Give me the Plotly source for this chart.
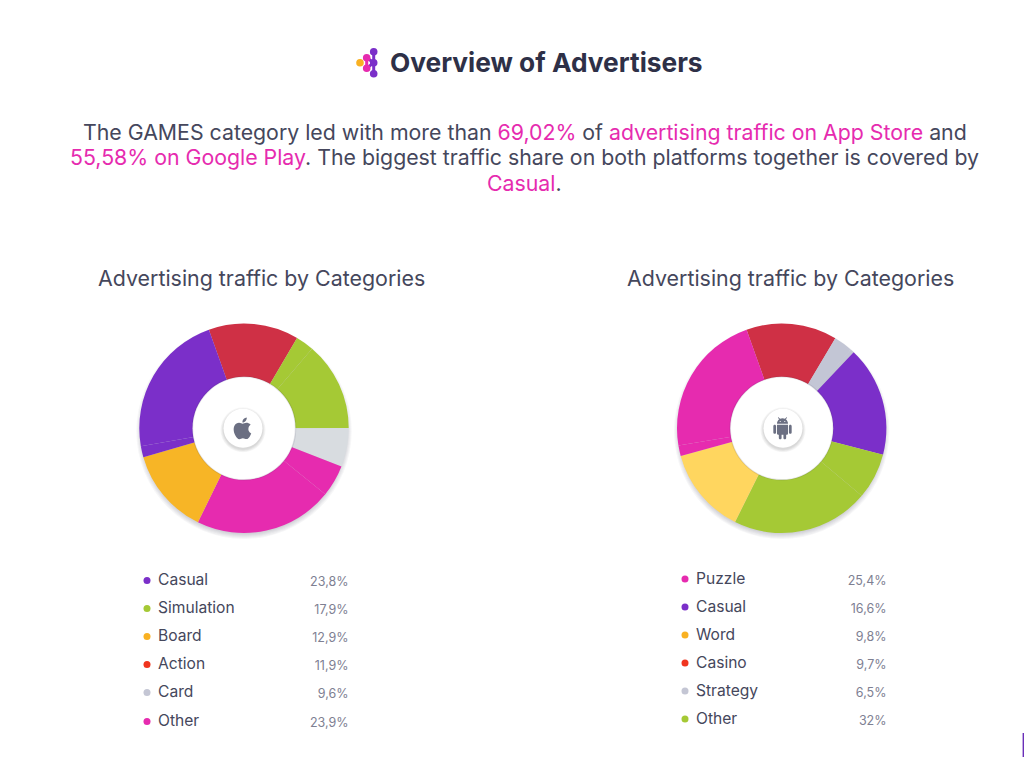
import re
import plotly.graph_objects as go

# slice shares (percent of the circle)
ios_values = [13.9, 2.8, 13.7, 6.0, 4.9, 21.4, 13.3, 1.7, 22.3]
ios_colors = ['#CF3045', '#A5C935', '#A5C935', '#D8DCE0', '#E62BAF', '#E62BAF', '#F7B526', '#7B2FC9', '#7B2FC9']
android_values = [14.0, 2.9, 0.6, 17.0, 7.1, 21.2, 13.4, 1.6, 22.2]
android_colors = ['#CF3045', '#C3C6D5', '#C3C6D5', '#7B2FC9', '#A5C935', '#A5C935', '#FFD65F', '#E62BAF', '#E62BAF']

# legend tables
ios_names = ['Casual', 'Simulation', 'Board', 'Action', 'Card', 'Other']
ios_shares = ['23,8%', '17,9%', '12,9%', '11,9%', '9,6%', '23,9%']
ios_dots = ['#7B2FC9', '#A5C935', '#F9B122', '#F0351F', '#C4C6D4', '#E62BAF']
android_names = ['Puzzle', 'Casual', 'Word', 'Casino', 'Strategy', 'Other']
android_shares = ['25,4%', '16,6%', '9,8%', '9,7%', '6,5%', '32%']
android_dots = ['#E62BAF', '#7B2FC9', '#F9B122', '#F0351F', '#C4C6D4', '#A5C935']

FONT = 'Inter'
DARK = '#2E3047'
TEXT = '#45475C'
PINK = '#E62BAF'
GREY = '#7E8092'
W, H = 1024, 760
R_OUT, R_IN = 104.7, 51

APPLE = ('M18.71 19.5c-.83 1.24-1.71 2.45-3.05 2.47-1.34.03-1.77-.79-3.29-.79-1.53 0-2 .77-3.27.82'
         '-1.31.05-2.3-1.32-3.14-2.53C4.25 17 2.94 12.45 4.7 9.39c.87-1.52 2.43-2.48 4.12-2.51'
         ' 1.28-.02 2.5.87 3.29.87.78 0 2.26-1.07 3.81-.91.65.03 2.47.26 3.64 1.98-.09.06-2.17 1.28-2.15 3.81'
         '.03 3.02 2.65 4.03 2.68 4.04-.03.07-.42 1.44-1.38 2.83M13 3.5c.73-.83 1.94-1.46 2.94-1.5'
         '.13 1.17-.34 2.35-1.04 3.19-.69.85-1.83 1.51-2.95 1.42-.15-1.15.41-2.35 1.05-3.11z')
ANDROID = ('M6 18c0 .55.45 1 1 1h1v3.5c0 .83.67 1.5 1.5 1.5s1.5-.67 1.5-1.5V19h2v3.5c0 .83.67 1.5 1.5 1.5'
           's1.5-.67 1.5-1.5V19h1c.55 0 1-.45 1-1V8H6v10zM3.5 8C2.67 8 2 8.67 2 9.5v7c0 .83.67 1.5 1.5 1.5'
           'S5 17.33 5 16.5v-7C5 8.67 4.33 8 3.5 8zM20.5 8c-.83 0-1.5.67-1.5 1.5v7c0 .83.67 1.5 1.5 1.5'
           's1.5-.67 1.5-1.5v-7c0-.83-.67-1.5-1.5-1.5zM15.53 2.16l1.3-1.3c.2-.2.2-.51 0-.71-.2-.2-.51-.2-.71 0'
           'l-1.48 1.48C13.85 1.23 12.95 1 12 1c-.96 0-1.86.23-2.66.63L7.85.15c-.2-.2-.51-.2-.71 0-.2.2-.2.51 0 .71'
           'l1.31 1.31C6.97 3.26 6 5.01 6 7h12c0-1.99-.97-3.75-2.47-4.84z'
           'M10 5H9V4h1v1zM15 5h-1V4h1v1z')


def place_icon(path, cx, cy, size):
    # plotly shapes take absolute commands only, so resolve the relative ones and scale
    k = size / 24
    out = []
    px, py = 0, 0
    for cmd, args in re.findall(r'([MmLlHhVvCcSsZz])([^MmLlHhVvCcSsZz]*)', path):
        nums = [float(n) for n in re.findall(r'-?\d*\.?\d+', args)]
        low = cmd.lower()
        if low == 'z':
            out.append('Z')
            continue
        rel = cmd == low
        if low == 'h':
            px = px + nums[0] if rel else nums[0]
            out.append(f'L{cx + (px - 12) * k:.2f} {cy + (py - 12) * k:.2f}')
            continue
        if low == 'v':
            py = py + nums[0] if rel else nums[0]
            out.append(f'L{cx + (px - 12) * k:.2f} {cy + (py - 12) * k:.2f}')
            continue
        step = {'m': 2, 'l': 2, 'c': 6, 's': 4}[low]
        for i in range(0, len(nums), step):
            chunk = nums[i:i + step]
            pts = []
            for a in range(0, step, 2):
                x = chunk[a] + px if rel else chunk[a]
                y = chunk[a + 1] + py if rel else chunk[a + 1]
                pts.append((x, y))
            px, py = pts[-1]
            letter = cmd.upper() if not (low == 'm' and i > 0) else 'L'
            out.append(letter + ' '.join(f'{cx + (x - 12) * k:.2f} {cy + (y - 12) * k:.2f}' for x, y in pts))
    return ''.join(out)


def circle(cx, cy, r, fill, layer='above', line=None, width=0):
    return dict(type='circle', xref='x', yref='y', x0=cx - r, x1=cx + r, y0=cy - r, y1=cy + r,
                fillcolor=fill, line=dict(color=line or 'rgba(0,0,0,0)', width=width), layer=layer)


def donut_dressing(cx, cy, button_x, icon_x, icon, icon_size):
    shapes = []
    # soft drop shadow under the ring
    for i in range(6):
        shapes.append(circle(cx, cy + 3, R_OUT + 3 - i, 'rgba(40,40,60,0.035)', layer='below'))
    # white hole with a faint edge, the ring shadow must not show through it
    shapes.append(circle(cx, cy, R_IN + 0.5, '#FFFFFF', line='rgba(60,60,80,0.12)', width=1.5))
    # round white button with the platform icon, not quite centred in the hole
    for i in range(5):
        shapes.append(circle(button_x, cy + 1.5, 22.5 - i * 0.7, 'rgba(40,40,60,0.04)'))
    shapes.append(circle(button_x, cy, 19.5, '#FFFFFF'))
    shapes.append(dict(type='path', xref='x', yref='y', path=place_icon(icon, icon_x, cy, icon_size),
                       fillcolor='#6B6F82', line=dict(width=0), layer='above', fillrule='evenodd'))
    return shapes


fig = go.Figure()

# hidden pixel axes carry the legends, shapes and text
for names, shares, dots, dot_x, val_x, top, rows in [
    (ios_names, ios_shares, ios_dots, 147, 348.5, 580.5, [0, 28, 56, 84, 112, 141]),
    (android_names, android_shares, android_dots, 685, 886.5, 579, [0, 28, 56, 84, 112, 140]),
]:
    ys = [top + r for r in rows]
    fig.add_trace(go.Scatter(x=[dot_x] * len(ys), y=ys, mode='markers', marker=dict(size=7, color=dots),
                             hoverinfo='skip', cliponaxis=False))
    fig.add_trace(go.Scatter(x=[dot_x + 11] * len(ys), y=[y + 1 for y in ys], mode='text', text=names,
                             textposition='middle right',
                             textfont=dict(family=FONT, size=15.6, color=TEXT),
                             hoverinfo='skip', cliponaxis=False))
    fig.add_trace(go.Scatter(x=[val_x] * len(ys), y=[y + 2.5 for y in ys], mode='text', text=shares,
                             textposition='middle left',
                             textfont=dict(family=FONT, size=12.5, color=GREY),
                             hoverinfo='skip', cliponaxis=False))

for values, colors, cx, cy in [
    (ios_values, ios_colors, 244, 428.3),
    (android_values, android_colors, 781.7, 428.3),
]:
    fig.add_trace(go.Pie(values=values, sort=False, direction='clockwise', rotation=340.4,
                         hole=R_IN / R_OUT, textinfo='none', hoverinfo='percent',
                         marker=dict(colors=colors, line=dict(width=0)),
                         domain=dict(x=[(cx - R_OUT) / W, (cx + R_OUT) / W],
                                     y=[1 - (cy + R_OUT) / H, 1 - (cy - R_OUT) / H])))

shapes = (donut_dressing(244, 428.3, 243, 242.5, APPLE, 26)
          + donut_dressing(781.7, 428.3, 783, 782.5, ANDROID, 22))

# logo next to the title
logo_lines = [(366.7, 57.7, 366.7, 68.3, '#E62BAF'),
              (366.7, 57.7, 373.7, 62.7, '#7B2FC9'), (366.7, 68.3, 373.7, 62.7, '#7B2FC9'),
              (373.7, 51.7, 373.7, 73.7, '#7B2FC9')]
for x0, y0, x1, y1, c in logo_lines:
    shapes.append(dict(type='line', xref='x', yref='y', x0=x0, y0=y0, x1=x1, y1=y1,
                       line=dict(color=c, width=3)))
for x, y, c in [(360, 62.7, '#F9B122'), (366.7, 57.7, '#E62BAF'), (366.7, 68.3, '#E62BAF'),
                (373.7, 51.7, '#7B2FC9'), (373.7, 62.7, '#7B2FC9'), (373.7, 73.7, '#7B2FC9')]:
    shapes.append(circle(x, y, 3.8, c))

# sliver of the scroll widget at the right page edge
shapes.append(dict(type='rect', xref='x', yref='y', x0=1022.6, x1=1026, y0=733, y1=757,
                   fillcolor='#6A2FB8', line=dict(width=0)))


def pink(s):
    return f'<span style="color:{PINK}">{s}</span>'


texts = [
    ('<b>Overview of Advertisers</b>', 546.5, 62, 26.3, DARK),
    (f'The GAMES category led with more than {pink("69,02%")} of {pink("advertising traffic on App Store")} and',
     524.5, 131.5, 21.3, TEXT),
    (f'{pink("55,58% on Google Play")}. The biggest traffic share on both platforms together is covered by',
     524.5, 156.5, 21.3, TEXT),
    (f'{pink("Casual")}.', 524.5, 182.5, 21.3, TEXT),
    ('Advertising traffic by Categories', 261.5, 277.5, 21.4, TEXT),
    ('Advertising traffic by Categories', 790.5, 277.5, 21.4, TEXT),
]
annotations = [dict(text=t, x=x, y=y, xref='x', yref='y', showarrow=False, xanchor='center', yanchor='middle',
                    font=dict(family=FONT, size=s, color=c)) for t, x, y, s, c in texts]

fig.update_layout(
    width=W, height=H, margin=dict(l=0, r=0, t=0, b=0),
    paper_bgcolor='white', plot_bgcolor='white', showlegend=False,
    xaxis=dict(range=[0, W], visible=False, fixedrange=True),
    yaxis=dict(range=[H, 0], visible=False, fixedrange=True),
    shapes=shapes, annotations=annotations,
)

fig.write_html('out.html', config=dict(displayModeBar=False),
               post_script="document.body.style.margin='0';")
